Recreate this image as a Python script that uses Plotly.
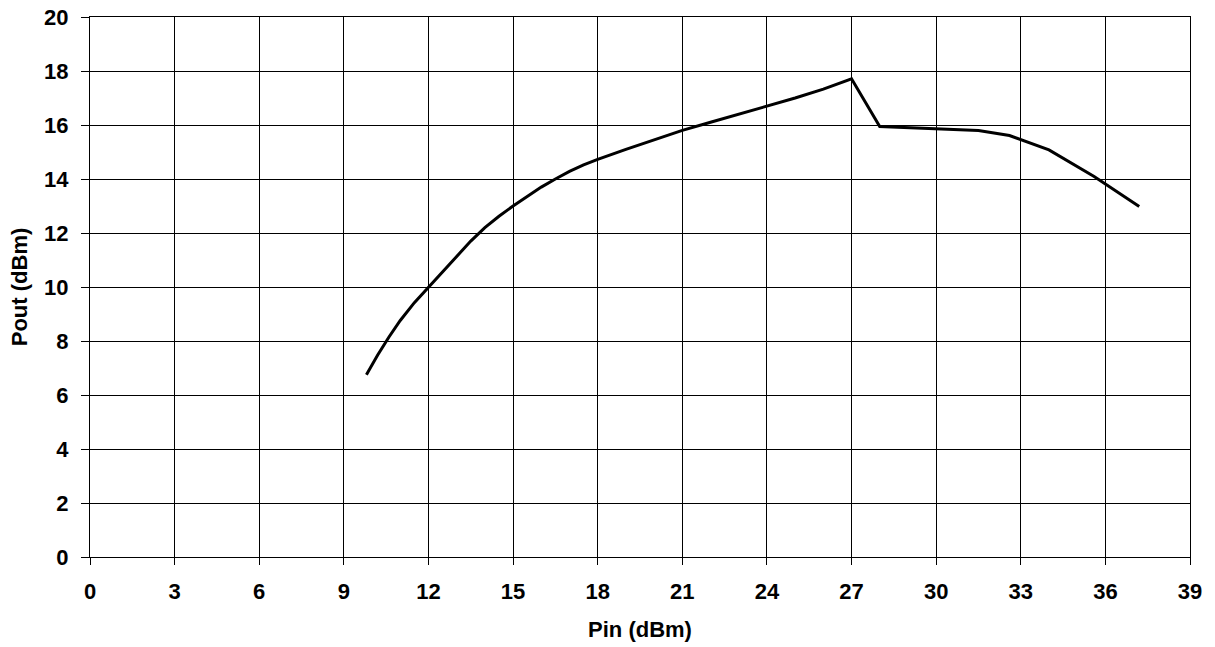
import plotly.graph_objects as go

pin = [9.8, 10.2, 10.6, 11.0, 11.5, 12.0, 12.5, 13.0, 13.5, 14.0, 14.5, 15.0, 15.5, 16.0,
       16.5, 17.0, 17.5, 18.0, 19.0, 20.0, 21.0, 22.0, 23.0, 24.0, 25.0, 26.0, 27.0,
       28.0, 29.0, 30.0, 31.5, 32.6, 34.0, 35.6, 37.2]
pout = [6.75, 7.48, 8.15, 8.76, 9.42, 10.0, 10.58, 11.15, 11.7, 12.2, 12.62, 13.0, 13.36, 13.7,
        14.0, 14.28, 14.52, 14.73, 15.1, 15.45, 15.8, 16.1, 16.4, 16.69, 17.0, 17.33, 17.71,
        15.94, 15.9, 15.86, 15.8, 15.61, 15.08, 14.09, 12.98]

x_ticks = list(range(0, 40, 3))
y_ticks = list(range(0, 21, 2))

fig = go.Figure()
fig.add_trace(go.Scatter(x=pin, y=pout, mode="lines",
                         line=dict(color="black", width=3), showlegend=False))

font = dict(family="Liberation Sans, Arial, sans-serif", size=22, color="black")
fig.update_layout(
    width=1215, height=647,
    margin=dict(l=90, r=25, t=17, b=90),
    paper_bgcolor="white", plot_bgcolor="white",
    font=font,
    xaxis=dict(range=[0, 39], tickvals=x_ticks, ticktext=[f"<b>{v}</b>" for v in x_ticks],
               tickfont=font, automargin=False,
               showgrid=True, gridcolor="black", gridwidth=1,
               showline=True, linecolor="black", linewidth=1, mirror=True,
               ticks="outside", ticklen=7, tickcolor="black", ticklabelstandoff=8,
               zeroline=False,
               title=dict(text="<b>Pin (dBm)</b>", font=font, standoff=18)),
    yaxis=dict(range=[0, 20], tickvals=y_ticks, ticktext=[f"<b>{v}</b>" for v in y_ticks],
               tickfont=font, automargin=False,
               showgrid=True, gridcolor="black", gridwidth=1,
               showline=True, linecolor="black", linewidth=1, mirror=True,
               ticks="outside", ticklen=8, tickcolor="black", ticklabelstandoff=8,
               zeroline=False,
               title=dict(text="<b>Pout (dBm)</b>", font=font, standoff=10)),
)
fig.write_html("out.html", config={"displayModeBar": False},
               post_script="document.body.style.margin='0px';")
